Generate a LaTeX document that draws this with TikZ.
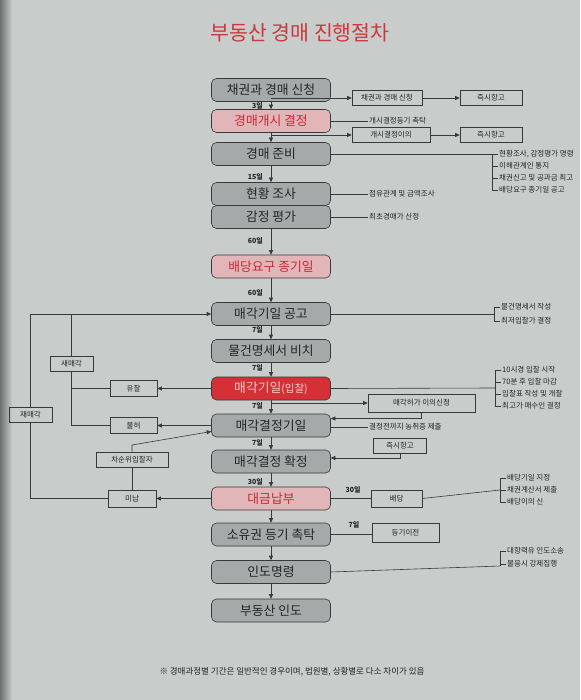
\documentclass[tikz,border=0pt]{standalone}
\usepackage{fontspec}
\setmainfont{Noto Sans CJK KR}
\usetikzlibrary{arrows.meta}
\definecolor{bg}{RGB}{200,204,203}
\definecolor{ln}{RGB}{55,57,58}
\definecolor{txt}{RGB}{35,36,38}
\definecolor{mainfill}{RGB}{166,169,170}
\definecolor{pinkfill}{RGB}{226,181,184}
\definecolor{redtxt}{RGB}{200,42,52}
\definecolor{titletxt}{RGB}{205,55,62}
\definecolor{redfill}{RGB}{212,48,54}
\definecolor{redboxtxt}{RGB}{245,205,205}
\begin{document}
\begin{tikzpicture}[x=1pt,y=-1pt,
  mainbox/.style={draw=ln, line width=0.6pt, fill=mainfill, rounded corners=5pt,
    minimum width=119pt, minimum height=23pt, inner sep=0pt,
    font=\fontsize{12.8}{14}\selectfont, text=txt},
  pinkbox/.style={mainbox, fill=pinkfill, text=redtxt},
  redbox/.style={mainbox, fill=redfill, text=redboxtxt},
  sbox/.style={draw=ln, line width=0.6pt, inner sep=0pt, font=\fontsize{7.5}{9}\selectfont, text=txt},
  note/.style={anchor=west, inner sep=1pt, font=\fontsize{7.5}{9}\selectfont, text=txt},
  day/.style={anchor=east, inner sep=0pt, font=\fontsize{7}{8}\selectfont\bfseries, text=txt},
  conn/.style={draw=ln, line width=0.6pt},
  arr/.style={conn, -{Triangle[length=4.5pt,width=4pt]}}]
\fill[bg] (0,0) rectangle (580,700);
\shade[left color=bg!55!black, right color=bg] (0,0) rectangle (12,700);
\useasboundingbox (0,0) rectangle (580,700);

% title
\node[text=titletxt, font=\fontsize{20.5}{22}\selectfont] (title) at (300,33) {부동산 경매 진행절차};

% main column
\node[mainbox] (m1) at (271,90) {채권과 경매 신청};
\node[pinkbox] (m2) at (271,121) {경매개시 결정};
\node[mainbox] (m3) at (271,154) {경매 준비};
\node[mainbox] (m4) at (271,194) {현황 조사};
\node[mainbox] (m5) at (271,217) {감정 평가};
\node[pinkbox] (m6) at (271,266.5) {배당요구 종기일};
\node[mainbox] (m7) at (271,314) {매각기일 공고};
\node[mainbox] (m8) at (271,351) {물건명세서 비치};
\node[redbox] (m9) at (271,388.5) {매각기일{\fontsize{10.5}{12}\selectfont(입찰)}};
\node[mainbox] (m10) at (271,425.5) {매각결정기일};
\node[mainbox] (m11) at (271,461.5) {매각결정 확정};
\node[pinkbox] (m12) at (271,498.5) {대금납부};
\node[mainbox] (m13) at (271,534.5) {소유권 등기 촉탁};
\node[mainbox] (m14) at (271,572) {인도명령};
\node[mainbox] (m15) at (271,610.5) {부동산 인도};

\draw[arr] (m1) -- (m2);
\draw[arr] (m2) -- (m3);
\draw[arr] (m3) -- (m4);
\draw[arr] (m5) -- (m6);
\draw[arr] (m6) -- (m7);
\draw[arr] (m7) -- (m8);
\draw[arr] (m8) -- (m9);
\draw[arr] (m9) -- (m10);
\draw[arr] (m10) -- (m11);
\draw[arr] (m11) -- (m12);
\draw[arr] (m12) -- (m13);
\draw[arr] (m13) -- (m14);
\draw[arr] (m14) -- (m15);

% day labels
\node[day] (d1) at (263,106) {3일};
\node[day] (d2) at (263,177) {15일};
\node[day] (d3) at (263,241) {60일};
\node[day] (d4) at (263,293) {60일};
\node[day] (d5) at (263,330) {7일};
\node[day] (d6) at (263,368) {7일};
\node[day] (d7) at (263,406) {7일};
\node[day] (d8) at (263,443) {7일};
\node[day] (d9) at (263,482) {30일};

% right side: top
\coordinate (b1) at (271,98);
\node[sbox, minimum width=70pt, minimum height=15pt] (s1) at (387,98) {채권과 경매 신청};
\node[sbox, minimum width=62pt, minimum height=15pt] (j1) at (491,98) {즉시항고};
\draw[arr] (b1) -- (s1);
\draw[arr] (s1) -- (j1);

\node[note] (n1) at (368,121) {개시결정등기 촉탁};
\draw[conn] (m2.east) -- (n1.west);

\coordinate (b2) at (271,135);
\node[sbox, minimum width=78pt, minimum height=15pt] (s2) at (391,135) {개시결정이의};
\node[sbox, minimum width=62pt, minimum height=15pt] (j2) at (491,135) {즉시항고};
\draw[arr] (b2) -- (s2);
\draw[arr] (s2) -- (j2);

% bracket after 경매 준비
\node[note] (r11) at (498,154) {현황조사, 감정평가 명령};
\node[note] (r12) at (498,166) {이해관계인 통지};
\node[note] (r13) at (498,178) {채권신고 및 공과금 최고};
\node[note] (r14) at (498,190) {배당요구 종기일 공고};
\draw[conn] (m3.east) -- (r11.west);
\draw[conn] ([xshift=-6pt]r11.west) -- ([xshift=-6pt]r14.west) -- (r14.west);
\draw[conn] ([xshift=-6pt]r12.west) -- (r12.west);
\draw[conn] ([xshift=-6pt]r13.west) -- (r13.west);

\node[note] (n2) at (368,194) {점유관계 및 금액조사};
\draw[conn] (m4.east) -- (n2.west);
\node[note] (n3) at (368,217) {최초경매가 산정};
\draw[conn] (m5.east) -- (n3.west);

% bracket after 매각기일 공고
\node[note] (r21) at (500,307) {물건명세서 작성};
\node[note] (r22) at (500,321) {최저입찰가 결정};
\coordinate (k7) at (494,314);
\draw[conn] (m7.east) -- (k7);
\draw[conn] (r21.west) -- ([xshift=-6pt]r21.west) -- ([xshift=-6pt]r22.west) -- (r22.west);

% bracket after 매각기일(입찰)
\node[note] (r31) at (501,370) {10시경 입찰 시작};
\node[note] (r32) at (501,382) {70분 후 입찰 마감};
\node[note] (r33) at (501,394) {입찰표 작성 및 개찰};
\node[note] (r34) at (501,406) {최고가 매수인 결정};
\coordinate (k9) at (495,388);
\draw[conn] (m9.east) -- (k9);
\draw[conn] (r31.west) -- ([xshift=-6pt]r31.west) -- ([xshift=-6pt]r34.west) -- (r34.west);
\draw[conn] ([xshift=-6pt]r32.west) -- (r32.west);
\draw[conn] ([xshift=-6pt]r33.west) -- (r33.west);

% 매각허가 이의신청
\coordinate (b3) at (271,403);
\node[sbox, minimum width=107pt, minimum height=18pt] (s3) at (421.5,403) {매각허가 이의신청};
\draw[arr] (b3) -- (s3);
\draw[arr] (s3.south) |- ([yshift=7pt]m10.east);

\node[note] (n4) at (368,427) {결정전까지 농취증 제출};
\draw[conn] ([yshift=-1.5pt]m10.east) -- (n4.west);

\node[sbox, minimum width=53pt, minimum height=15pt] (j3) at (400,445.5) {즉시항고};
\draw[arr] (j3.south) |- ([yshift=3.5pt]m11.east);

% 배당
\node[sbox, minimum width=51pt, minimum height=17pt] (bd) at (396.5,498.5) {배당};
\node[day, anchor=center] (d10) at (353,490) {30일};
\draw[conn] (m12.east) -- (bd.west);
\node[note] (r41) at (506,478) {배당기일 지정};
\node[note] (r42) at (506,490) {채권계산서 제출};
\node[note] (r43) at (506,502) {배당이의 신};
\coordinate (k12) at (500,490);
\draw[conn] (bd.east) -- (k12);
\draw[conn] (r41.west) -- ([xshift=-6pt]r41.west) -- ([xshift=-6pt]r43.west) -- (r43.west);
\draw[conn] ([xshift=-6pt]r42.west) -- (r42.west);

% 등기이전
\node[sbox, minimum width=67pt, minimum height=19pt] (dg) at (405.5,533) {등기이전};
\node[day, anchor=center] (d11) at (354,525) {7일};
\draw[conn] (m13.east) -- (dg.west |- m13.east);

% bracket after 인도명령
\node[note] (r51) at (506,551) {대항력유 인도소송};
\node[note] (r52) at (506,564) {불응시 강제집행};
\coordinate (k14) at (500,566);
\draw[conn] (m14.east) -- (k14);
\draw[conn] (r51.west) -- ([xshift=-6pt]r51.west) -- (k14);
\draw[conn] ([xshift=-6pt]r52.west) -- (r52.west);

% left side
\node[sbox, minimum width=43pt, minimum height=15pt] (sm) at (71.5,363.5) {새매각};
\node[sbox, minimum width=43pt, minimum height=15pt] (jm) at (30.5,414.5) {재매각};
\node[sbox, minimum width=47pt, minimum height=16pt] (yc) at (133.5,388.5) {유찰};
\node[sbox, minimum width=47pt, minimum height=16pt] (bh) at (133.5,425.5) {불허};
\node[sbox, minimum width=72pt, minimum height=15pt] (cs) at (132,459.5) {차순위입찰자};
\node[sbox, minimum width=48pt, minimum height=17pt] (mn) at (132,498.5) {미납};

\draw[arr] (jm.north) |- (m7.west);
\draw[conn] (sm.north) -- (sm.north |- m7.west);
\draw[conn] (sm.south) |- (bh.west);
\draw[conn] (sm.south |- yc.west) -- (yc.west);
\draw[arr] (m9.west) -- (yc.east);
\draw[arr] (m10.west) -- (bh.east);
\coordinate (cs1) at (132,445);
\draw[arr] (cs.north) -- (cs1) -- ([yshift=-6pt]m10.west);
\draw[conn] (mn.north) -- (cs.south);
\draw[arr] (m12.west) -- (mn.east);
\draw[conn] (mn.west) -| (jm.south);

% footnote
\node[font=\fontsize{8.5}{10}\selectfont, text=txt] (foot) at (292,672) {※ 경매과정별 기간은 일반적인 경우이며, 법원별, 상황별로 다소 차이가 있음};
\end{tikzpicture}
\end{document}
